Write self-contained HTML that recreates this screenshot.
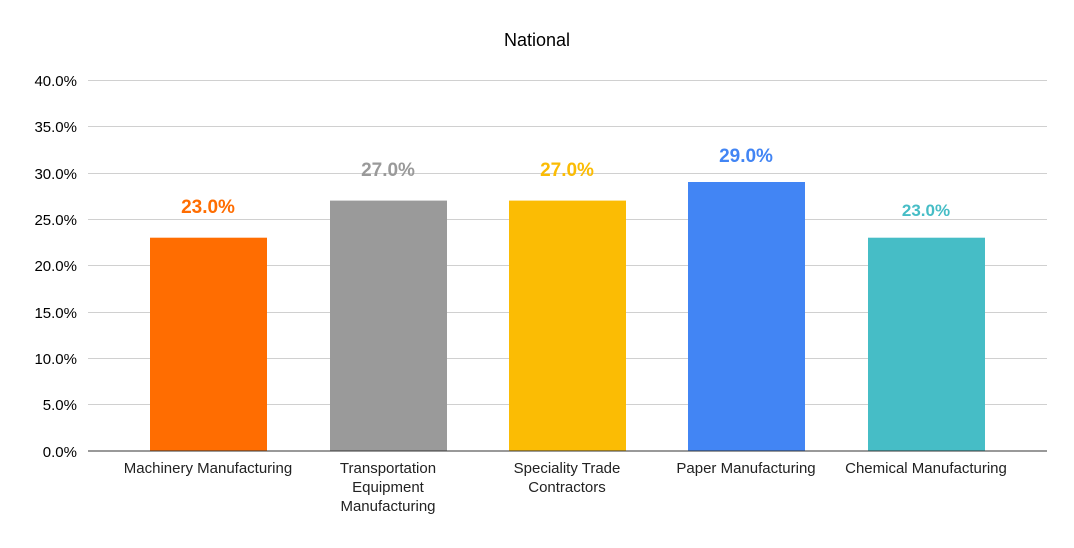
<!DOCTYPE html>
<html><head><style>
body{margin:0;background:#fff;}
svg text{font-family:"Liberation Sans",Arial,sans-serif;}
</style></head><body>
<svg width="1074" height="543" viewBox="0 0 1074 543" xmlns="http://www.w3.org/2000/svg">
<rect width="1074" height="543" fill="#fff"/>
<text x="537" y="46" text-anchor="middle" font-size="18" fill="#000">National</text>
<g stroke="#d0d0d0" stroke-width="1">
<line x1="88" x2="1047" y1="80.5" y2="80.5"/>
<line x1="88" x2="1047" y1="126.5" y2="126.5"/>
<line x1="88" x2="1047" y1="173.5" y2="173.5"/>
<line x1="88" x2="1047" y1="219.5" y2="219.5"/>
<line x1="88" x2="1047" y1="265.5" y2="265.5"/>
<line x1="88" x2="1047" y1="312.5" y2="312.5"/>
<line x1="88" x2="1047" y1="358.5" y2="358.5"/>
<line x1="88" x2="1047" y1="404.5" y2="404.5"/>
</g>
<g font-size="15" fill="#000" text-anchor="end">
<text x="77" y="86">40.0%</text>
<text x="77" y="132">35.0%</text>
<text x="77" y="179">30.0%</text>
<text x="77" y="225">25.0%</text>
<text x="77" y="271">20.0%</text>
<text x="77" y="318">15.0%</text>
<text x="77" y="364">10.0%</text>
<text x="77" y="410">5.0%</text>
<text x="77" y="457">0.0%</text>
</g>
<rect x="150" y="237.7" width="117" height="213.3" fill="#ff6d01"/>
<rect x="330" y="200.6" width="117" height="250.4" fill="#9a9a9a"/>
<rect x="509" y="200.6" width="117" height="250.4" fill="#fbbc04"/>
<rect x="688" y="182" width="117" height="269" fill="#4285f4"/>
<rect x="868" y="237.7" width="117" height="213.3" fill="#46bdc6"/>
<line x1="88" x2="1047" y1="451" y2="451" stroke="#333" stroke-width="1"/>
<g font-size="19" font-weight="bold" text-anchor="middle">
<text x="208" y="213" fill="#ff6d01">23.0%</text>
<text x="388" y="176" fill="#9a9a9a">27.0%</text>
<text x="567" y="176" fill="#fbbc04">27.0%</text>
<text x="746" y="162" fill="#4285f4">29.0%</text>
<text x="926" y="216" fill="#46bdc6" font-size="17">23.0%</text>
</g>
<g font-size="15" fill="#222" text-anchor="middle">
<text x="208" y="473">Machinery Manufacturing</text>
<text x="388" y="473">Transportation</text>
<text x="388" y="492">Equipment</text>
<text x="388" y="511">Manufacturing</text>
<text x="567" y="473">Speciality Trade</text>
<text x="567" y="492">Contractors</text>
<text x="746" y="473">Paper Manufacturing</text>
<text x="926" y="473">Chemical Manufacturing</text>
</g>
</svg>
</body></html>
